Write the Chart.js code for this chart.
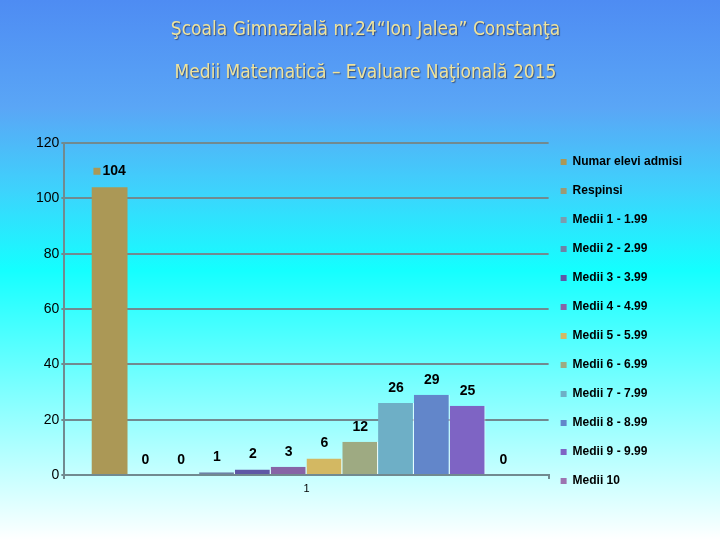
<!DOCTYPE html>
<html>
<head>
<meta charset="utf-8">
<script src="https://cdn.jsdelivr.net/npm/chart.js@4.4.1/dist/chart.umd.min.js"></script>
<style>
html,body{margin:0;padding:0;background:#fff;}
#wrap{width:720px;height:540px;}
canvas{display:block;}
</style>
</head>
<body>
<div id="wrap"><canvas id="c" width="720" height="540"></canvas></div>
<script>
// ---- data ----
const titleLines = ['Şcoala Gimnazială nr.24“Ion Jalea” Constanţa', 'Medii Matematică – Evaluare Naţională 2015'];
const categories = ['1'];
const seriesNames = ['Numar elevi admisi', 'Respinsi', 'Medii 1 - 1.99', 'Medii 2 - 2.99', 'Medii 3 - 3.99',
  'Medii 4 - 4.99', 'Medii 5 - 5.99', 'Medii 6 - 6.99', 'Medii 7 - 7.99', 'Medii 8 - 8.99', 'Medii 9 - 9.99', 'Medii 10'];
const seriesValues = [104, 0, 0, 1, 2, 3, 6, 12, 26, 29, 25, 0];
const yTickValues = [0, 20, 40, 60, 80, 100, 120];

// ---- styles ----
const seriesColors = ['#ab9856', '#9c9a74', '#7c9cae', '#6e82a6', '#5f58a6', '#8764a6',
  '#d3b862', '#9eaa82', '#6eafc6', '#6286ca', '#7e64c4', '#9c74b0'];
const gridColor = '#718a90';
const FONT = '"Liberation Sans", Arial, sans-serif';

const datasets = seriesNames.map((name, i) => ({
  label: name,
  data: [seriesValues[i]],
  backgroundColor: seriesColors[i],
  borderColor: 'rgba(255,255,255,0.85)',
  borderWidth: i === 0 ? 0 : {left: 0, right: 1, top: 0, bottom: 0},
  borderSkipped: false
}));

const bgPlugin = {
  id: 'bg',
  beforeDraw(chart) {
    const {ctx, width, height} = chart;
    const g = ctx.createLinearGradient(0, 0, 0, height);
    g.addColorStop(0, '#4e8cf3');
    g.addColorStop(0.2, '#5aa6f6');
    g.addColorStop(0.35, '#3ed2fc');
    g.addColorStop(0.5, '#14ffff');
    g.addColorStop(0.75, '#8affff');
    g.addColorStop(1, '#ffffff');
    ctx.save();
    ctx.fillStyle = g;
    ctx.fillRect(0, 0, width, height);
    ctx.restore();
  }
};

const legendShift = {
  id: 'legendShift',
  afterLayout(chart) {
    if (chart.legend) { chart.legend.left -= 5; chart.legend.right -= 5; }
  }
};

const valueLabels = {
  id: 'valueLabels',
  afterDatasetsDraw(chart, args, opts) {
    const ctx = chart.ctx;
    ctx.save();
    ctx.font = 'bold 14px ' + FONT;
    ctx.textBaseline = 'middle';
    chart.data.datasets.forEach((ds, i) => {
      const meta = chart.getDatasetMeta(i);
      meta.data.forEach((bar, j) => {
        const txt = String(ds.data[j]);
        if (i === opts.keyedIndex) {
          const w = ctx.measureText(txt).width;
          const gw = 7 + 2 + w;
          const left = bar.x - gw / 2;
          const y = bar.y - 16;
          ctx.fillStyle = ds.backgroundColor;
          ctx.fillRect(left, y - 3.5, 7, 7);
          ctx.fillStyle = '#000';
          ctx.textAlign = 'left';
          ctx.fillText(txt, left + 9, y);
        } else {
          ctx.fillStyle = '#000';
          ctx.textAlign = 'center';
          ctx.fillText(txt, bar.x, bar.y - 15);
        }
      });
    });
    ctx.restore();
  }
};

const chart = new Chart(document.getElementById('c'), {
  type: 'bar',
  data: { labels: categories, datasets },
  plugins: [bgPlugin, legendShift, valueLabels],
  options: {
    responsive: false,
    animation: false,
    devicePixelRatio: 1,
    layout: { padding: { left: 34, right: 23, top: 0, bottom: 36 } },
    datasets: { bar: { categoryPercentage: 0.887, barPercentage: 1 } },
    plugins: {
      tooltip: { enabled: false },
      valueLabels: { keyedIndex: 0 },
      title: {
        display: true,
        text: titleLines,
        color: '#efe39c',
        font: { family: '"DejaVu Sans Condensed", "DejaVu Sans", sans-serif', size: 19, weight: 'normal', lineHeight: 43 / 19 },
        padding: { top: 8.5, bottom: 48.5 }
      },
      legend: {
        position: 'right',
        align: 'end',
        fullSize: true,
        labels: {
          boxWidth: 6,
          boxHeight: 6,
          padding: 17,
          color: '#000',
          font: { family: FONT, size: 12, weight: 'bold' },
          generateLabels(chart) {
            return Chart.defaults.plugins.legend.labels.generateLabels(chart).map(l => ({...l, lineWidth: 0, strokeStyle: 'rgba(0,0,0,0)'}));
          }
        }
      }
    },
    scales: {
      x: {
        afterFit(scale) { scale.height = 29; },
        grid: { display: true, drawOnChartArea: false, drawTicks: true, tickLength: 4, color: gridColor, lineWidth: 2 },
        border: { display: true, color: gridColor, width: 2 },
        ticks: { color: '#000', font: { family: FONT, size: 11 }, padding: 3 }
      },
      y: {
        min: 0,
        max: 120,
        afterBuildTicks(scale) { scale.ticks = yTickValues.map(v => ({ value: v })); },
        grid: { color: gridColor, lineWidth: 2, tickLength: 3 },
        border: { display: true, color: gridColor, width: 2 },
        ticks: { color: '#000', font: { family: FONT, size: 14 }, padding: 2 }
      }
    }
  }
});

// soft shadow behind the title text
(function () {
  const tb = chart.titleBlock;
  if (!tb) return;
  const orig = tb.draw;
  tb.draw = function () {
    const c = this.ctx;
    c.save();
    c.shadowColor = 'rgba(40,50,80,0.7)';
    c.shadowOffsetX = 1;
    c.shadowOffsetY = 1;
    c.shadowBlur = 1;
    orig.apply(this, arguments);
    c.restore();
  };
  chart.draw();
})();
</script>
</body>
</html>
